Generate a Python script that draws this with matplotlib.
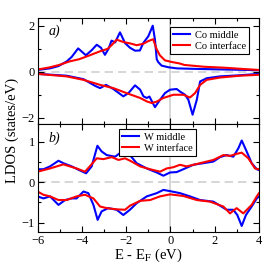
import matplotlib
matplotlib.use('Agg')
import matplotlib.pyplot as plt
from matplotlib.ticker import MultipleLocator

plt.rcParams['font.family'] = ['Liberation Serif', 'DejaVu Serif']
plt.rcParams['mathtext.fontset'] = 'stix'

# panel a) Co, spin up / spin down
co_mid_up_e = [-6.0, -5.44, -5.06, -4.69, -4.46, -4.17, -3.82, -3.55, -3.33, -3.14, -2.96,
               -2.80, -2.66, -2.5, -2.28, -2.05, -1.83, -1.6, -1.38, -1.23, -1.0, -0.80,
               -0.70, -0.62, -0.55, -0.40, -0.10, 0.28, 1.0, 2.0, 3.0, 4.0]
co_mid_up = [0.08, 0.15, 0.25, 0.45, 0.65, 1.02, 0.72, 0.95, 1.18, 1.05, 0.74,
             1.0, 1.36, 1.28, 1.72, 1.25, 1.05, 0.92, 0.93, 1.25, 1.55, 2.01,
             1.4, 0.55, 0.42, 0.27, 0.2, 0.15, 0.13, 0.11, 0.09, 0.07]
co_int_up_e = [-6.0, -5.47, -5.02, -4.57, -4.12, -3.67, -3.22, -2.84, -2.64, -2.43, -2.13,
               -1.83, -1.53, -1.23, -1.0, -0.78, -0.63, -0.48, -0.25, 0.05, 0.43, 0.62,
               1.52, 2.42, 3.33, 4.0]
co_int_up = [0.1, 0.19, 0.3, 0.45, 0.55, 0.71, 0.88, 1.0, 1.18, 1.4, 1.3,
             1.24, 1.16, 1.22, 1.34, 1.42, 1.0, 0.72, 0.5, 0.43, 0.36, 0.3,
             0.22, 0.18, 0.12, 0.08]
co_mid_dn_e = [-6.0, -4.69, -3.93, -3.41, -3.18, -2.91, -2.58, -2.13, -1.90, -1.60, -1.37,
               -1.22, -1.07, -0.95, -0.70, -0.47, -0.25, -0.02, 0.28, 0.43, 0.66, 0.81,
               1.0, 1.19, 1.34, 1.64, 2.24, 3.14, 4.0]
co_mid_dn = [-0.09, -0.17, -0.32, -0.61, -0.71, -0.57, -0.75, -1.07, -0.93, -0.59, -0.78,
             -1.07, -1.14, -1.08, -1.54, -1.22, -0.93, -0.78, -0.75, -0.86, -1.0, -1.22,
             -1.87, -1.22, -0.42, -0.28, -0.2, -0.15, -0.09]
co_int_dn_e = [-6.0, -4.69, -3.93, -3.18, -2.58, -1.98, -1.37, -1.07, -0.85, -0.62, -0.32,
               0.13, 0.58, 0.88, 1.11, 1.34, 1.64, 2.24, 3.14, 4.0]
co_int_dn = [-0.09, -0.2, -0.35, -0.57, -0.71, -0.93, -1.14, -1.29, -1.36, -1.3, -1.14,
             -1.0, -1.0, -1.12, -0.93, -0.57, -0.35, -0.25, -0.17, -0.13]

# panel b) W, spin up / spin down
w_mid_up_e = [-6.0, -5.74, -5.44, -5.06, -4.84, -4.46, -4.09, -3.81, -3.56, -3.30, -3.11,
              -2.88, -2.50, -2.28, -2.05, -1.83, -1.53, -1.07, -0.62, -0.32, -0.02, 0.28,
              0.58, 1.03, 1.49, 1.94, 2.24, 2.54, 2.84, 3.07, 3.22, 3.41, 3.67, 3.90, 4.0]
w_mid_up = [0.32, 0.32, 0.39, 0.53, 0.47, 0.39, 0.29, 0.22, 0.39, 0.90, 0.76,
            0.67, 0.63, 0.72, 0.78, 0.67, 0.47, 0.34, 0.24, 0.16, 0.24, 0.25,
            0.32, 0.43, 0.47, 0.51, 0.62, 0.67, 0.63, 0.84, 1.03, 0.80, 0.47, 0.32, 0.30]
w_int_up_e = [-6.0, -5.44, -4.84, -4.24, -3.86, -3.63, -3.33, -3.03, -2.65, -2.35, -2.05,
              -1.75, -1.37, -0.92, -0.47, -0.17, 0.13, 0.43, 0.73, 1.34, 1.94, 2.39,
              2.69, 2.99, 3.22, 3.52, 3.82, 4.0]
w_int_up = [0.26, 0.34, 0.44, 0.34, 0.26, 0.40, 0.59, 0.57, 0.62, 0.55, 0.59,
            0.51, 0.39, 0.32, 0.26, 0.34, 0.37, 0.43, 0.39, 0.47, 0.55, 0.67,
            0.65, 0.70, 0.73, 0.59, 0.34, 0.32]
w_mid_dn_e = [-6.0, -5.74, -5.44, -5.06, -4.76, -4.46, -4.24, -3.93, -3.71, -3.48, -3.29,
              -3.11, -2.81, -2.43, -2.13, -1.83, -1.53, -1.07, -0.62, -0.32, -0.02, 0.43,
              0.88, 1.34, 1.94, 2.54, 2.84, 3.02, 3.22, 3.41, 3.67, 3.90, 4.0]
w_mid_dn = [-0.35, -0.40, -0.35, -0.56, -0.44, -0.40, -0.40, -0.23, -0.27, -0.56, -0.93,
            -0.72, -0.64, -0.68, -0.81, -0.68, -0.52, -0.35, -0.27, -0.19, -0.22, -0.27,
            -0.35, -0.44, -0.48, -0.68, -0.68, -0.81, -1.08, -0.81, -0.60, -0.40, -0.35]
w_int_dn_e = [-6.0, -5.74, -5.44, -5.06, -4.69, -4.24, -3.86, -3.48, -3.18, -2.88, -2.43,
              -2.05, -1.83, -1.37, -0.92, -0.47, -0.02, 0.58, 1.19, 1.79, 2.39, 2.69,
              2.99, 3.29, 3.67, 3.90, 4.0]
w_int_dn = [-0.23, -0.31, -0.35, -0.44, -0.44, -0.35, -0.31, -0.40, -0.60, -0.64, -0.67,
            -0.68, -0.58, -0.46, -0.44, -0.35, -0.30, -0.34, -0.44, -0.48, -0.60, -0.77,
            -0.64, -0.77, -0.56, -0.35, -0.27]

blue = '#0000ff'
red = '#ff0000'
grey = '#d0d0d0'

fig = plt.figure(figsize=(2.67, 2.67), dpi=100)
ax1 = fig.add_axes([0.141, 0.536, 0.829, 0.397])
ax2 = fig.add_axes([0.141, 0.131, 0.829, 0.405])

panels = [
    (ax1, co_mid_up_e, co_mid_up, co_mid_dn_e, co_mid_dn,
     co_int_up_e, co_int_up, co_int_dn_e, co_int_dn,
     'Co middle', 'Co interface', 'a)', (-2.27, 2.35), 2, 1),
    (ax2, w_mid_up_e, w_mid_up, w_mid_dn_e, w_mid_dn,
     w_int_up_e, w_int_up, w_int_dn_e, w_int_dn,
     'W middle', 'W interface', 'b)', (-1.23, 1.44), 1, 0.5),
]

for (ax, mue, mu, mde, md, iue, iu, ide, idn,
     lab_m, lab_i, tag, ylim, major, minor) in panels:
    ax.axhline(0, color=grey, lw=1.2, ls=(0, (5, 3)), zorder=0)
    ax.axvline(0, color=grey, lw=1.2, zorder=0)
    lm, = ax.plot(mue, mu, color=blue, lw=1.5, label=lab_m)
    ax.plot(mde, md, color=blue, lw=1.5)
    li, = ax.plot(iue, iu, color=red, lw=1.5, label=lab_i)
    ax.plot(ide, idn, color=red, lw=1.5)
    ax.set_xlim(-6, 4)
    ax.set_ylim(*ylim)
    ax.xaxis.set_major_locator(MultipleLocator(2))
    ax.xaxis.set_minor_locator(MultipleLocator(1))
    ax.yaxis.set_major_locator(MultipleLocator(major))
    ax.yaxis.set_minor_locator(MultipleLocator(minor))
    ax.tick_params(which='both', direction='in', top=True, right=True,
                   labelsize=9, pad=2)
    ax.tick_params(which='major', length=4, width=0.8)
    ax.tick_params(which='minor', length=2.5, width=0.8)
    ax.text(0.05, 0.87, tag, transform=ax.transAxes, fontsize=10,
            style='italic', va='center')
    leg = ax.legend(handles=[lm, li], fontsize=7.5, fancybox=False,
                    edgecolor='black', framealpha=1, borderpad=0.3,
                    handlelength=1.6, handletextpad=0.5, labelspacing=0.2,
                    loc='upper right' if ax is ax1 else 'upper center',
                    bbox_to_anchor=(0.98, 0.96) if ax is ax1 else (0.54, 1.0))
    leg.get_frame().set_linewidth(0.8)

ax1.tick_params(labelbottom=False)
ax2.set_xlabel('E - E$_\\mathrm{F}$ (eV)', fontsize=10.5, labelpad=0)
fig.text(0.045, 0.51, 'LDOS (states/eV)', rotation=90, fontsize=10.5,
         ha='center', va='center')

fig.savefig('out.png', dpi=100)
